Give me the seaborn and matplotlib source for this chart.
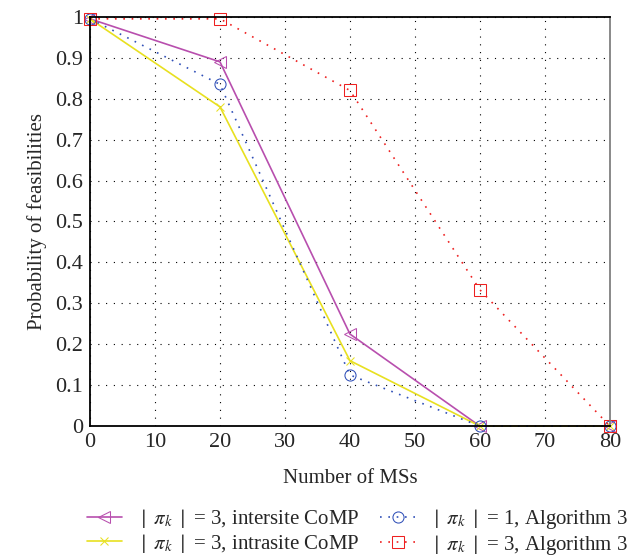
import matplotlib
matplotlib.use("Agg")
import matplotlib.pyplot as plt
import seaborn as sns
import numpy as np

num_ms = [0, 20, 40, 60, 80]
intersite = [0.995, 0.89, 0.225, 0.0, 0.0]
intrasite = [0.995, 0.78, 0.16, 0.0, 0.0]
alg_pi1 = [0.995, 0.835, 0.125, 0.0, 0.0]
alg_pi3 = [0.995, 0.995, 0.82, 0.333, 0.0]

labels = [r"$\mid\ \pi_k\ \mid$ = 3, intersite CoMP",
          r"$\mid\ \pi_k\ \mid$ = 3, intrasite CoMP",
          r"$\mid\ \pi_k\ \mid$ = 1, Algorithm 3",
          r"$\mid\ \pi_k\ \mid$ = 3, Algorithm 3"]

sns.set_style("white")
plt.rcParams['font.family'] = ['Liberation Serif', 'DejaVu Serif']
plt.rcParams['mathtext.fontset'] = 'stix'

fig = plt.figure(figsize=(6.38, 5.6), dpi=100)
ax = fig.add_axes([0.141, 0.239, 0.815, 0.731])

common = dict(ax=ax, linewidth=1.2, clip_on=False)
sns.lineplot(x=num_ms, y=intersite, color="#b84fae", marker="<", markersize=9,
             markerfacecolor="none", markeredgecolor="#b84fae", label=labels[0], **common)
sns.lineplot(x=num_ms, y=intrasite, color="#e8e020", marker="x", markersize=6,
             markeredgecolor="#e8e020", label=labels[1], **common)
sns.lineplot(x=num_ms, y=alg_pi1, color="#3050b8", marker="o", markersize=8,
             markerfacecolor="none", markeredgecolor="#3050b8", linestyle=(0, (1, 4)),
             label=labels[2], **common)
sns.lineplot(x=num_ms, y=alg_pi3, color="#ee2020", marker="s", markersize=8,
             markerfacecolor="none", markeredgecolor="#ee2020", linestyle=(0, (1, 4)),
             label=labels[3], **common)

ax.set_xlim(0, 80)
ax.set_ylim(0, 1)
ax.set_xticks(np.arange(0, 81, 10))
ax.set_yticks(np.arange(0, 1.01, 0.1))
ax.set_yticklabels(["0", "0.1", "0.2", "0.3", "0.4", "0.5", "0.6", "0.7", "0.8", "0.9", "1"])
ax.grid(True, color="black", linestyle=(0, (1, 6)), linewidth=0.8)
ax.tick_params(labelsize=16, length=0, pad=5)
for s in ['top', 'left', 'bottom']:
    ax.spines[s].set_color('black')
    ax.spines[s].set_linewidth(1.3)
ax.spines['right'].set_color('#808080')
ax.spines['right'].set_linewidth(1.3)
ax.set_xlabel("Number of MSs", fontsize=15, labelpad=12)
ax.set_ylabel("Probability of feasibilities", fontsize=15, labelpad=6)

handles, labs = ax.get_legend_handles_labels()
ax.get_legend().remove()
fig.legend(handles, labs, loc="center", bbox_to_anchor=(0.56, 0.05), ncol=2, frameon=False,
           fontsize=15, handlelength=1.7, columnspacing=1.0, labelspacing=0.05,
           handletextpad=0.7, borderaxespad=0.0, borderpad=0.1)

fig.savefig("out.png", dpi=100)
